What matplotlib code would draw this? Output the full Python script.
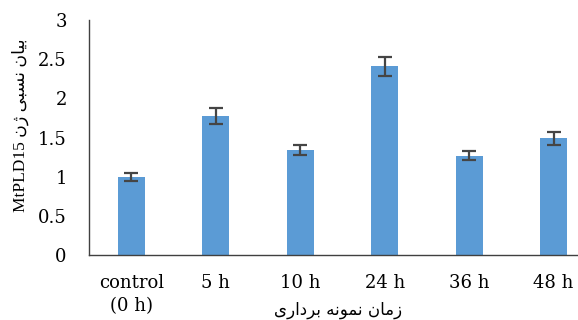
import matplotlib
matplotlib.use('Agg')
import matplotlib.pyplot as plt

size = 13
serif = ['DejaVu Serif', 'DejaVu Sans']
times = ['Liberation Serif', 'DejaVu Sans']

labels = ['control\n(0 h)', '5 h', '10 h', '24 h', '36 h', '48 h']
values = [1.00, 1.78, 1.34, 2.41, 1.27, 1.49]
errors = [0.05, 0.10, 0.06, 0.12, 0.06, 0.08]
yticks = [0, 0.5, 1, 1.5, 2, 2.5, 3]
yticklabels = ['0', '0.5', '1', '1.5', '2', '2.5', '3']

# persian labels written with presentation forms (matplotlib does no shaping),
# words laid out left to right as they appear on screen
ylab = 'MtPLD15 \uFEE5\uFB8A \uFBFD\uFE92\uFEB4\uFEE7 \uFEE5\uFE8E\uFBFF\uFE91'
xlab = '\uFBFC\uFEAD\uFE8D\uFEA9\uFEAE\uFE91 \uFEEA\uFEE7\uFEEE\uFEE4\uFEE7 \uFEE5\uFE8E\uFEE3\uFEAF'

fig = plt.figure(figsize=(5.78, 3.2), dpi=100)
ax = fig.add_axes([0.154, 0.203, 0.877, 0.734])

x = list(range(len(values)))
ax.bar(x, values, width=0.32, color='#5B9BD5', zorder=2)
ax.errorbar(x, values, yerr=errors, fmt='none', ecolor='#454545',
            elinewidth=1.6, capsize=5, capthick=1.6, zorder=3)

ax.set_xlim(-0.5, 5.5)
ax.set_ylim(0, 3)
ax.set_yticks(yticks)
ax.set_yticklabels(yticklabels, family=serif, fontsize=size)
ax.set_xticks(x)
ax.set_xticklabels(labels, family=serif, fontsize=size, linespacing=1.3)
ax.tick_params(axis='both', length=0)
ax.tick_params(axis='x', pad=14)
ax.tick_params(axis='y', pad=16)

for s in ['top', 'right']:
    ax.spines[s].set_visible(False)
for s in ['left', 'bottom']:
    ax.spines[s].set_color('#404040')
    ax.spines[s].set_linewidth(1.0)

fig.text(0.036, 0.608, ylab, rotation=90, ha='center', va='center',
         family=times, fontsize=12.5)
fig.text(0.585, 0.03, xlab, ha='center', va='center',
         family=['DejaVu Sans'], fontsize=12)

fig.savefig('out.png', dpi=100)
